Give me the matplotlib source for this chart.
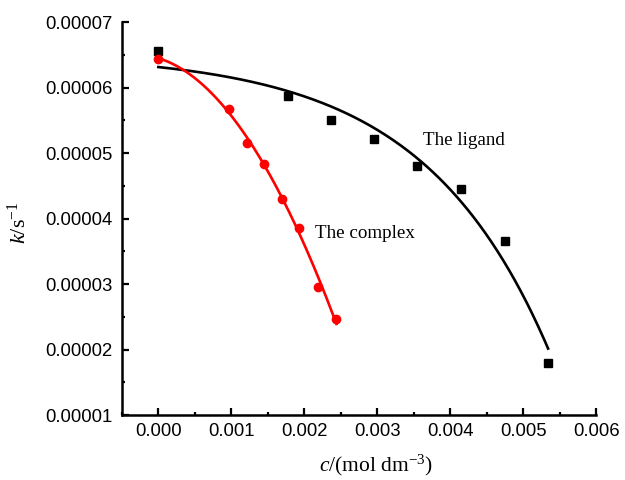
import numpy as np
import matplotlib
matplotlib.use("Agg")
import matplotlib.pyplot as plt
from matplotlib.ticker import MultipleLocator, FormatStrFormatter

# Data
lig_c = [0.0, 0.00178, 0.00237, 0.00296, 0.00355, 0.00414, 0.00475, 0.00534]
lig_k = [6.56e-5, 5.87e-5, 5.51e-5, 5.22e-5, 4.80e-5, 4.45e-5, 3.66e-5, 1.80e-5]
cpx_c = [0.0, 0.00097, 0.00122, 0.00145, 0.00170, 0.00193, 0.00219, 0.00244]
cpx_k = [6.44e-5, 5.67e-5, 5.16e-5, 4.84e-5, 4.30e-5, 3.86e-5, 2.95e-5, 2.47e-5]

plt.rcParams['mathtext.fontset'] = 'custom'
plt.rcParams['mathtext.rm'] = 'Liberation Serif'
plt.rcParams['mathtext.it'] = 'Liberation Serif:italic'


def exp_fit(xs, ys):
    """Least-squares fit y = A + B*exp(x/t) (grid over t)."""
    xs = np.asarray(xs); ys = np.asarray(ys)
    best = None
    for t in np.linspace(0.0003, 0.01, 2000):
        M = np.column_stack([np.ones_like(xs), np.exp(xs / t)])
        coef, *_ = np.linalg.lstsq(M, ys, rcond=None)
        r = np.sum((M @ coef - ys) ** 2)
        if best is None or r < best[0]:
            best = (r, t, coef)
    _, t, coef = best
    return lambda x: coef[0] + coef[1] * np.exp(x / t)


fig = plt.figure(figsize=(6.25, 4.8), dpi=100)
ax = fig.add_axes([0.195, 0.135, 0.759, 0.819])

f_lig = exp_fit(lig_c, lig_k)
xx = np.linspace(min(lig_c), max(lig_c), 200)
ax.plot(xx, f_lig(xx), color='black', lw=1.9, zorder=2)

p = np.polyfit(cpx_c, cpx_k, 2)
xx = np.linspace(min(cpx_c), max(cpx_c), 200)
ax.plot(xx, np.polyval(p, xx), color='red', lw=1.9, zorder=2)

ax.plot(lig_c, lig_k, 's', color='black', ms=5.5, zorder=3)
ax.plot(cpx_c, cpx_k, 'o', color='red', ms=6, zorder=3)

ax.set_xlim(-0.0005, 0.006)
ax.set_ylim(0.00001, 0.00007)
ax.xaxis.set_major_locator(MultipleLocator(0.001))
ax.xaxis.set_minor_locator(MultipleLocator(0.0005))
ax.yaxis.set_major_locator(MultipleLocator(0.00001))
ax.yaxis.set_minor_locator(MultipleLocator(0.000005))
ax.xaxis.set_major_formatter(FormatStrFormatter('%.3f'))
ax.yaxis.set_major_formatter(FormatStrFormatter('%.5f'))

for s in ['top', 'right']:
    ax.spines[s].set_visible(False)
for s in ['left', 'bottom']:
    ax.spines[s].set_linewidth(1.8)

ax.tick_params(which='major', direction='in', length=5, width=1.6,
               labelsize=13.3, labelfontfamily='Liberation Sans')
ax.tick_params(axis='y', which='major', pad=6.5)
ax.tick_params(axis='x', which='major', pad=5.5)
ax.tick_params(which='minor', direction='in', length=2.5, width=1.6)

ax.set_xlabel(r'$c$/(mol dm$^{-3}$)', fontsize=15.5, family='Liberation Serif', va='center')
ax.xaxis.set_label_coords(0.536, (480 - 465 - 0.135 * 480) / (0.819 * 480))
ax.set_ylabel(r'$k$/s$^{-1}$', fontsize=16, family='Liberation Serif', va='center')
ax.yaxis.set_label_coords((19 - 0.195 * 625) / (0.759 * 625), 0.49)

ax.text(0.00363, 0.0000519, 'The ligand', fontsize=13.7, family='Liberation Serif',
        va='center', ha='left')
ax.text(0.00214, 0.0000378, 'The complex', fontsize=13.7, family='Liberation Serif',
        va='center', ha='left')

fig.savefig('out.png', dpi=100)
